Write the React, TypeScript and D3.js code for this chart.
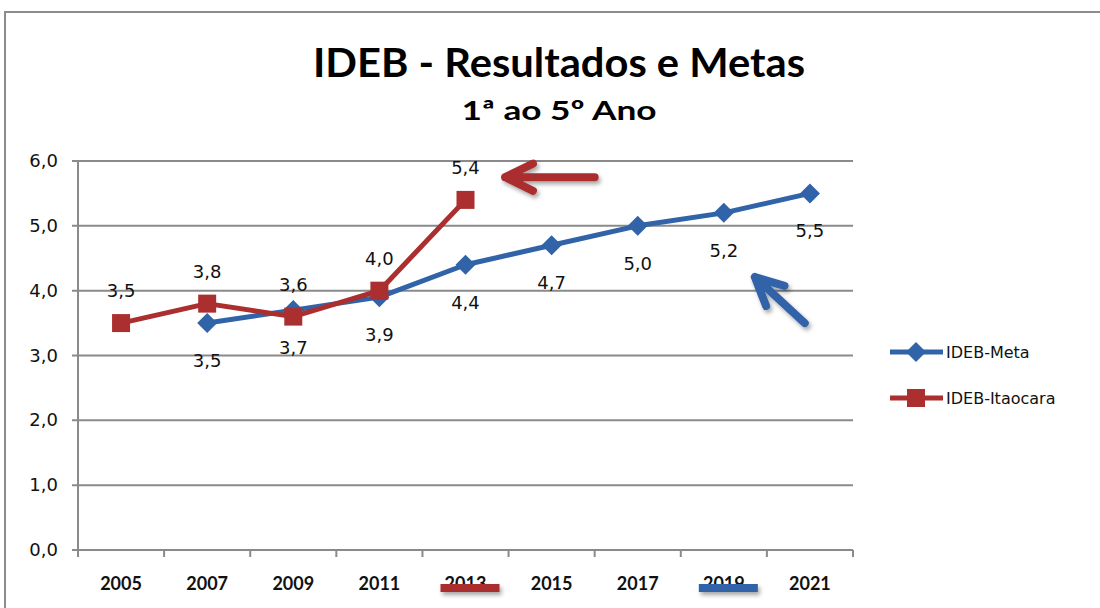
import * as d3 from "d3";

const categories = ["2005", "2007", "2009", "2011", "2013", "2015", "2017", "2019", "2021"];
const metaValues: (number | null)[] = [null, 3.5, 3.7, 3.9, 4.4, 4.7, 5.0, 5.2, 5.5];
const itaocaraValues: (number | null)[] = [3.5, 3.8, 3.6, 4.0, 5.4, null, null, null, null];
const yTicks = [0, 1, 2, 3, 4, 5, 6];
const seriesNames = ["IDEB-Meta", "IDEB-Itaocara"];

// annotation arrows, in (category index, value) space: [from, to]
const redArrow: [number, number][] = [[5.5, 5.75], [4.46, 5.75]];
const blueArrow: [number, number][] = [[7.94, 3.5], [7.36, 4.21]];
const highlighted = ["2013", "2019"];

const W = 1100;
const H = 608;
const BLUE = "#3063a8";
const RED = "#ab2f2f";
const GRID = "#8a8a8a";

const x = d3.scaleBand<string>().domain(categories).range([78, 853]);
const xi = d3.scaleLinear().domain([-0.5, categories.length - 0.5]).range([78, 853]);
const y = d3.scaleLinear().domain([0, 6]).range([550, 161]);
const cx = (c: string) => (x(c) ?? 0) + x.bandwidth() / 2;

const fmt = (v: number) => v.toFixed(1).replace(".", ",");

type Pt = { c: string; v: number };
const toPts = (vals: (number | null)[]): Pt[] =>
  categories.map((c, i) => ({ c, v: vals[i] as number })).filter((d) => d.v != null);

const line = d3
  .line<Pt>()
  .x((d) => cx(d.c))
  .y((d) => y(d.v));

function arrowPath(a: [number, number][]) {
  const [x0, y0] = [xi(a[0][0]), y(a[0][1])];
  const [x1, y1] = [xi(a[1][0]), y(a[1][1])];
  const ang = Math.atan2(y0 - y1, x0 - x1);
  const L = 31;
  const s = (26 * Math.PI) / 180;
  const ax = x1 + L * Math.cos(ang - s);
  const ay = y1 + L * Math.sin(ang - s);
  const bx = x1 + L * Math.cos(ang + s);
  const by = y1 + L * Math.sin(ang + s);
  return `M${x0},${y0}L${x1},${y1}M${ax},${ay}L${x1},${y1}L${bx},${by}`;
}

// diamond = square turned 45deg
const diamond = d3.symbol(d3.symbolSquare, 200)();
const square = d3.symbol(d3.symbolSquare, 324)();

export default function App() {
  const meta = toPts(metaValues);
  const ita = toPts(itaocaraValues);
  const sans = "'DejaVu Sans', Verdana, sans-serif";
  const cal = "Lato, 'Open Sans', sans-serif";

  return (
    <div>
      <style>{`body{margin:0}`}</style>
      <svg width={W} height={H} style={{ display: "block", background: "#fff" }}>
        <defs>
          <filter id="shadow" filterUnits="userSpaceOnUse" x={0} y={0} width={W} height={H}>
            <feDropShadow dx="2" dy="3" stdDeviation="2" floodColor="#000" floodOpacity="0.35" />
          </filter>
        </defs>
        <rect x={5} y={12} width={1200} height={700} fill="none" stroke="#8c8c8c" strokeWidth={2} />

        <text x={559} y={77} textAnchor="middle" fontFamily={cal} fontWeight={700} fontSize={40}
          textLength={492} lengthAdjust="spacingAndGlyphs">
          IDEB - Resultados e Metas
        </text>
        <text x={559} y={120} textAnchor="middle" fontFamily={cal} fontWeight={700} fontSize={27}
          textLength={195} lengthAdjust="spacingAndGlyphs">
          1ª ao  5º Ano
        </text>

        {/* grid + y axis */}
        {yTicks.map((t) => (
          <g key={t}>
            <line x1={72} x2={853} y1={y(t)} y2={y(t)} stroke={GRID} strokeWidth={2} />
            <text x={58} y={y(t) + 6} textAnchor="end" fontFamily={sans} fontSize={18} fill="#111">
              {fmt(t)}
            </text>
          </g>
        ))}
        <line x1={78} x2={78} y1={y(6)} y2={557} stroke={GRID} strokeWidth={2} />
        {categories.map((c) => (
          <line key={c} x1={(x(c) ?? 0) + x.bandwidth()} x2={(x(c) ?? 0) + x.bandwidth()}
            y1={550} y2={557} stroke={GRID} strokeWidth={2} />
        ))}

        {/* x labels */}
        {categories.map((c) => (
          <text key={c} x={cx(c)} y={590} textAnchor="middle" fontFamily={cal} fontWeight={700}
            fontSize={18} fill="#111">
            {c}
          </text>
        ))}
        {highlighted.map((c, i) => (
          <line key={c} x1={cx(c) - 25} x2={cx(c) + 34} y1={588} y2={588}
            stroke={i === 0 ? RED : BLUE} strokeWidth={8} filter="url(#shadow)" />
        ))}

        {/* series */}
        <path d={line(meta) ?? ""} fill="none" stroke={BLUE} strokeWidth={5} strokeLinejoin="round" />
        {meta.map((d) => (
          <path key={d.c} d={diamond ?? ""} transform={`translate(${cx(d.c)},${y(d.v)}) rotate(45)`} fill={BLUE} />
        ))}
        <path d={line(ita) ?? ""} fill="none" stroke={RED} strokeWidth={5} strokeLinejoin="round" />
        {ita.map((d) => (
          <path key={d.c} d={square ?? ""} transform={`translate(${cx(d.c)},${y(d.v)})`} fill={RED} />
        ))}

        {/* data labels */}
        {meta.map((d) => (
          <text key={"m" + d.c} x={cx(d.c)} y={y(d.v) + 44} textAnchor="middle" fontFamily={sans}
            fontSize={18} fill="#111">
            {fmt(d.v)}
          </text>
        ))}
        {ita.map((d) => (
          <text key={"i" + d.c} x={cx(d.c)} y={y(d.v) - 26} textAnchor="middle" fontFamily={sans}
            fontSize={18} fill="#111">
            {fmt(d.v)}
          </text>
        ))}

        {/* annotation arrows */}
        <path d={arrowPath(redArrow)} fill="none" stroke={RED} strokeWidth={8} strokeLinecap="round"
          strokeLinejoin="round" filter="url(#shadow)" />
        <path d={arrowPath(blueArrow)} fill="none" stroke={BLUE} strokeWidth={8} strokeLinecap="round"
          strokeLinejoin="round" filter="url(#shadow)" />

        {/* legend */}
        {seriesNames.map((n, i) => {
          const ly = 352 + i * 46;
          return (
            <g key={n}>
              <line x1={890} x2={943} y1={ly} y2={ly} stroke={i === 0 ? BLUE : RED} strokeWidth={5} />
              <path d={(i === 0 ? diamond : square) ?? ""}
                transform={`translate(916,${ly})${i === 0 ? " rotate(45)" : ""}`}
                fill={i === 0 ? BLUE : RED} />
              <text x={946} y={ly + 6} fontFamily={sans} fontSize={16} fill="#111">
                {n}
              </text>
            </g>
          );
        })}
      </svg>
    </div>
  );
}
